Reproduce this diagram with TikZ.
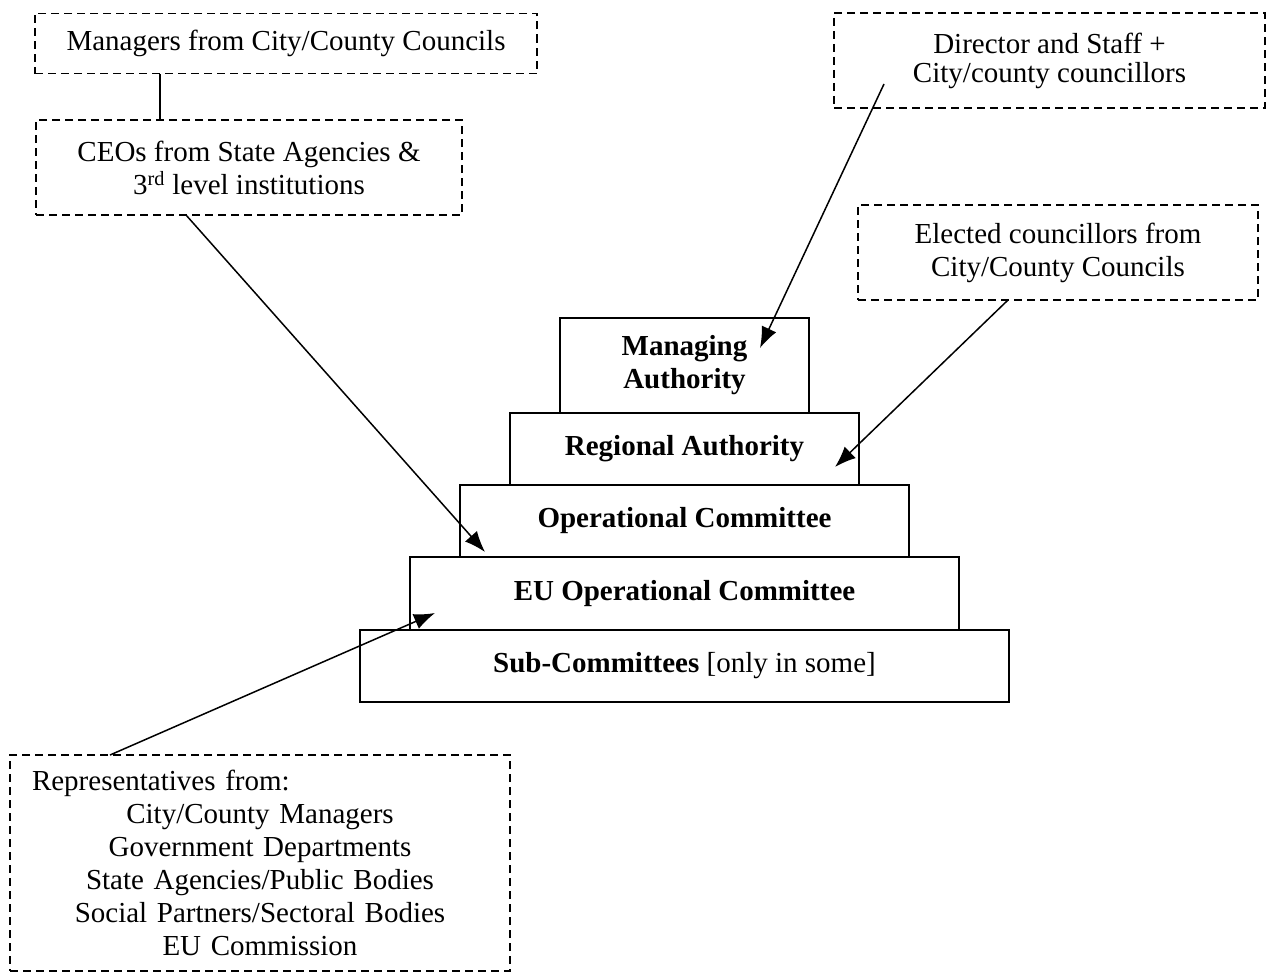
\documentclass[tikz,border=0pt]{standalone}
\usepackage{fontspec}
\setmainfont{Liberation Serif}
\usetikzlibrary{arrows.meta}
\tikzset{
  dbox/.style={draw, line width=1.6pt, dash pattern=on 8pt off 5pt, inner sep=0pt, align=center, font=\fontsize{29}{33}\selectfont},
  sbox/.style={draw, line width=2pt, inner sep=0pt, align=center, font=\fontsize{29}{33}\selectfont\bfseries},
  arr/.style={line width=1.5pt, -{Latex[length=21pt,width=16pt]}},
  link/.style={line width=1.5pt}
}
\begin{document}
\begin{tikzpicture}[x=1pt,y=-1pt]
\useasboundingbox (0,0) rectangle (1276,974);
% dashed boxes
\node[dbox, minimum width=502pt, minimum height=60pt] (mgr) at (286,43.5) {Managers from City/County Councils};
\node[dbox, minimum width=426pt, minimum height=95pt] (ceo) at (249,167.5) {CEOs from State Agencies \&\\3\textsuperscript{rd} level institutions};
\node[dbox, minimum width=431pt, minimum height=95pt, font=\fontsize{29}{29}\selectfont] (dir) at (1049.5,60.5) {Director and Staff +\\City/county councillors};
\node[dbox, minimum width=400pt, minimum height=95pt] (ele) at (1058,252.5) {Elected councillors from\\City/County Councils};
\node[dbox, minimum width=500pt, minimum height=216pt, text width=456pt] (rep) at (260,863)
  {\makebox[456pt][l]{Representatives from:}\\City/County Managers\\Government Departments\\State Agencies/Public Bodies\\Social Partners/Sectoral Bodies\\EU Commission};
% pyramid
\node[sbox, minimum width=249pt, minimum height=95pt] (ma) at (684.5,365.5) {Managing\\Authority};
\node[sbox, minimum width=349pt, minimum height=72pt] (ra) at (684.5,449) {Regional Authority};
\node[sbox, minimum width=449pt, minimum height=72pt] (oc) at (684.5,521) {Operational Committee};
\node[sbox, minimum width=549pt, minimum height=73pt] (eu) at (684.5,593.5) {EU Operational Committee};
\node[sbox, minimum width=649pt, minimum height=72pt] (sc) at (684.5,666) {Sub-Committees \normalfont[only in some]};
% connector points
\coordinate (dirS) at (884,84);
\coordinate (maT) at (760,348);
\coordinate (eleS) at (1008,300);
\coordinate (raT) at (835,467);
\coordinate (ceoS) at (186,215);
\coordinate (ocT) at (485,552);
\coordinate (repS) at (110,755);
\coordinate (euT) at (435,613);
% connectors
\draw[link] (mgr.south -| 160,0) -- (ceo.north -| 160,0);
\draw[arr] (dirS) -- (maT);
\draw[arr] (eleS) -- (raT);
\draw[arr] (ceoS) -- (ocT);
\draw[arr] (repS) -- (euT);
\end{tikzpicture}
\end{document}
